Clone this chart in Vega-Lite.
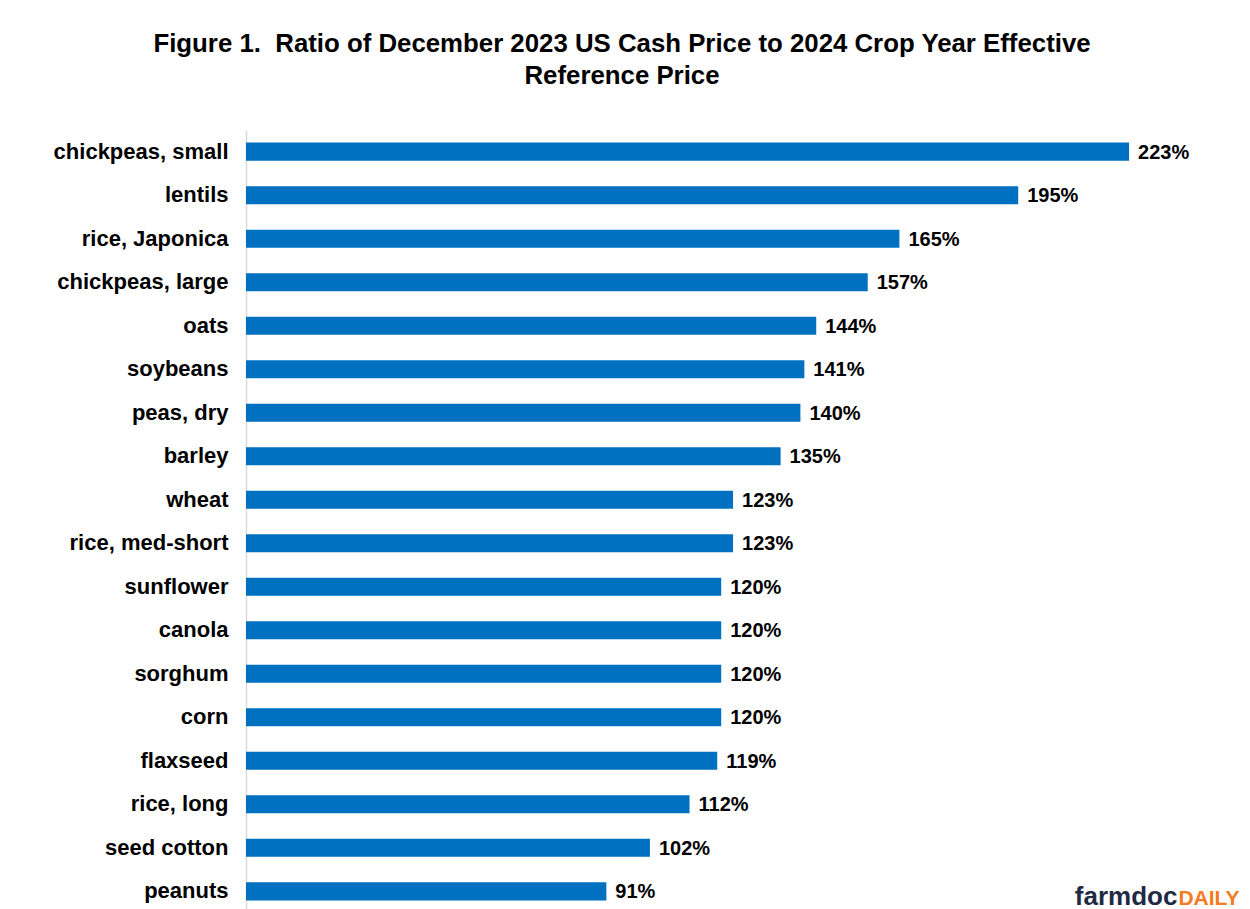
{
  "$schema": "https://vega.github.io/schema/vega-lite/v6.json",
  "autosize": "none",
  "width": 990,
  "height": 783,
  "padding": {"left": 246, "top": 130, "right": 14, "bottom": 0},
  "background": "white",
  "title": {
    "text": ["Figure 1.\u00a0 Ratio of December 2023 US Cash Price to 2024 Crop Year Effective", "Reference Price"],
    "font": "Liberation Sans",
    "fontSize": 25.8,
    "fontWeight": "bold",
    "color": "black",
    "lineHeight": 32,
    "anchor": "middle",
    "dx": -119,
    "offset": 40
  },
  "config": {
    "view": {"stroke": null},
    "font": "Liberation Sans"
  },
  "data": {
    "values": [
      {"crop": "chickpeas, small", "ratio": 223},
      {"crop": "lentils", "ratio": 195},
      {"crop": "rice, Japonica", "ratio": 165},
      {"crop": "chickpeas, large", "ratio": 157},
      {"crop": "oats", "ratio": 144},
      {"crop": "soybeans", "ratio": 141},
      {"crop": "peas, dry", "ratio": 140},
      {"crop": "barley", "ratio": 135},
      {"crop": "wheat", "ratio": 123},
      {"crop": "rice, med-short", "ratio": 123},
      {"crop": "sunflower", "ratio": 120},
      {"crop": "canola", "ratio": 120},
      {"crop": "sorghum", "ratio": 120},
      {"crop": "corn", "ratio": 120},
      {"crop": "flaxseed", "ratio": 119},
      {"crop": "rice, long", "ratio": 112},
      {"crop": "seed cotton", "ratio": 102},
      {"crop": "peanuts", "ratio": 91}
    ]
  },
  "encoding": {
    "y": {
      "field": "crop",
      "type": "nominal",
      "sort": ["chickpeas, small", "lentils", "rice, Japonica", "chickpeas, large", "oats", "soybeans", "peas, dry", "barley", "wheat", "rice, med-short", "sunflower", "canola", "sorghum", "corn", "flaxseed", "rice, long", "seed cotton", "peanuts"],
      "scale": {"paddingInner": 0.585, "paddingOuter": 0.29},
      "axis": {
        "title": null,
        "ticks": false,
        "domainColor": "#d9d9d9",
        "domainWidth": 1.5,
        "labelFont": "Liberation Sans",
        "labelFontSize": 22,
        "labelFontWeight": "bold",
        "labelColor": "black",
        "labelPadding": 18,
        "labelLimit": 300
      }
    }
  },
  "layer": [
    {
      "mark": {"type": "bar", "color": "#0070C0"},
      "encoding": {
        "x": {
          "field": "ratio",
          "type": "quantitative",
          "scale": {"domain": [0, 250], "nice": false},
          "axis": null
        }
      }
    },
    {
      "transform": [{"calculate": "datum.ratio + '%'", "as": "lbl"}],
      "mark": {"type": "text", "align": "left", "baseline": "middle", "dx": 9, "dy": 1, "font": "Liberation Sans", "fontSize": 20, "fontWeight": "bold", "color": "black"},
      "encoding": {
        "x": {"field": "ratio", "type": "quantitative"},
        "text": {"field": "lbl", "type": "nominal"}
      }
    },
    {
      "transform": [{"filter": "datum.crop === 'peanuts'"}],
      "mark": {"type": "text", "align": "right", "baseline": "alphabetic", "dy": 14, "font": "Liberation Sans", "fontSize": 26, "fontWeight": "bold", "color": "#1f2a44", "text": "farmdoc"},
      "encoding": {
        "x": {"datum": 235.2, "type": "quantitative"}
      }
    },
    {
      "transform": [{"filter": "datum.crop === 'peanuts'"}],
      "mark": {"type": "text", "align": "left", "baseline": "alphabetic", "dy": 14, "dx": 1, "font": "Liberation Sans", "fontSize": 21, "fontWeight": "bold", "color": "#f47b20", "text": "DAILY"},
      "encoding": {
        "x": {"datum": 235.2, "type": "quantitative"}
      }
    }
  ]
}
